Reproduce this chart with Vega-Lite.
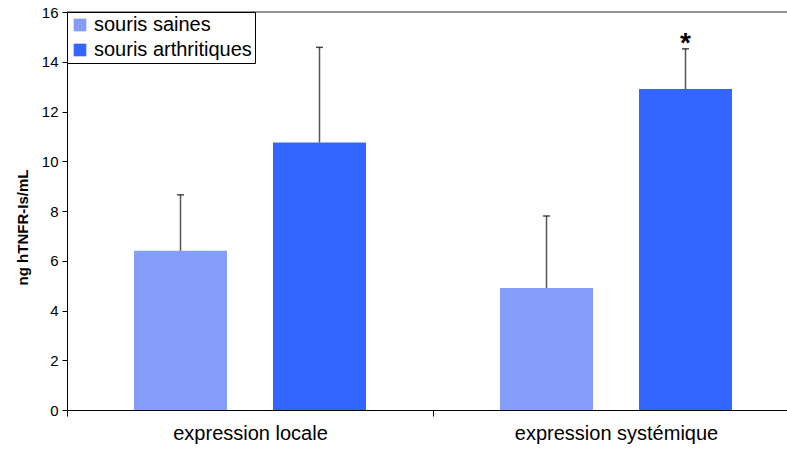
{
  "$schema": "https://vega.github.io/schema/vega-lite/v6.json",
  "autosize": "none",
  "width": 732,
  "height": 398,
  "padding": {"left": 67, "top": 12, "right": 0, "bottom": 40},
  "background": "white",
  "config": {"view": {"stroke": null}, "font": "Liberation Sans"},
  "data": {"values": [
    {"cat": "expression locale", "group": "souris saines", "value": 6.4, "upper": 8.65, "sig": ""},
    {"cat": "expression locale", "group": "souris arthritiques", "value": 10.75, "upper": 14.58, "sig": ""},
    {"cat": "expression systémique", "group": "souris saines", "value": 4.9, "upper": 7.8, "sig": ""},
    {"cat": "expression systémique", "group": "souris arthritiques", "value": 12.9, "upper": 14.52, "sig": "*"}
  ]},
  "encoding": {
    "x": {"field": "cat", "type": "nominal", "sort": null,
      "scale": {"paddingInner": 0, "paddingOuter": 0},
      "axis": {"title": null, "labelAngle": 0, "tickBand": "extent", "domainColor": "black", "tickColor": "black",
        "tickSize": 6, "labelFontSize": 20, "labelLimit": 0, "labelColor": "black", "labelPadding": 7}},
    "xOffset": {"field": "group", "type": "nominal", "sort": ["souris saines", "souris arthritiques"],
      "scale": {"paddingInner": 0.331, "paddingOuter": 0.482}},
    "y": {"field": "value", "type": "quantitative",
      "scale": {"domain": [0, 16], "nice": false},
      "axis": {"title": "ng hTNFR-Is/mL", "titleFontSize": 15, "titleFontWeight": "bold", "titleColor": "black",
        "titlePadding": 11, "titleY": 215, "values": [0, 2, 4, 6, 8, 10, 12, 14, 16], "grid": false,
        "domainColor": "black", "tickColor": "black", "tickSize": 5, "labelFontSize": 15, "labelColor": "black", "labelPadding": 4}}
  },
  "layer": [
    {
      "mark": {"type": "bar"},
      "encoding": {
        "color": {"field": "group", "type": "nominal",
          "scale": {"domain": ["souris saines", "souris arthritiques"], "range": ["#849dfb", "#3366ff"]},
          "legend": {"title": null, "orient": "none", "legendX": 0, "legendY": 0, "symbolType": "square",
            "symbolSize": 160, "symbolStrokeWidth": 0, "labelFontSize": 20, "labelLimit": 0, "labelColor": "black", "fillColor": "white",
            "strokeColor": "black", "padding": 3, "rowPadding": 5, "labelOffset": 4, "offset": 0}}
      }
    },
    {
      "mark": {"type": "rule", "color": "#8c8c8c", "strokeWidth": 1},
      "encoding": {"y": {"datum": 16, "type": "quantitative"}, "x": null, "xOffset": null}
    },
    {
      "mark": {"type": "rule", "color": "#555555", "strokeWidth": 1.5},
      "encoding": {"y2": {"field": "upper"}}
    },
    {
      "mark": {"type": "tick", "color": "black", "size": 7, "thickness": 1.5, "orient": "horizontal"},
      "encoding": {"y": {"field": "upper", "type": "quantitative"}}
    },
    {
      "mark": {"type": "text", "fontSize": 28, "fontWeight": "bold", "color": "black", "dy": 9, "baseline": "bottom"},
      "encoding": {"y": {"field": "upper", "type": "quantitative"}, "text": {"field": "sig"}}
    }
  ]
}
